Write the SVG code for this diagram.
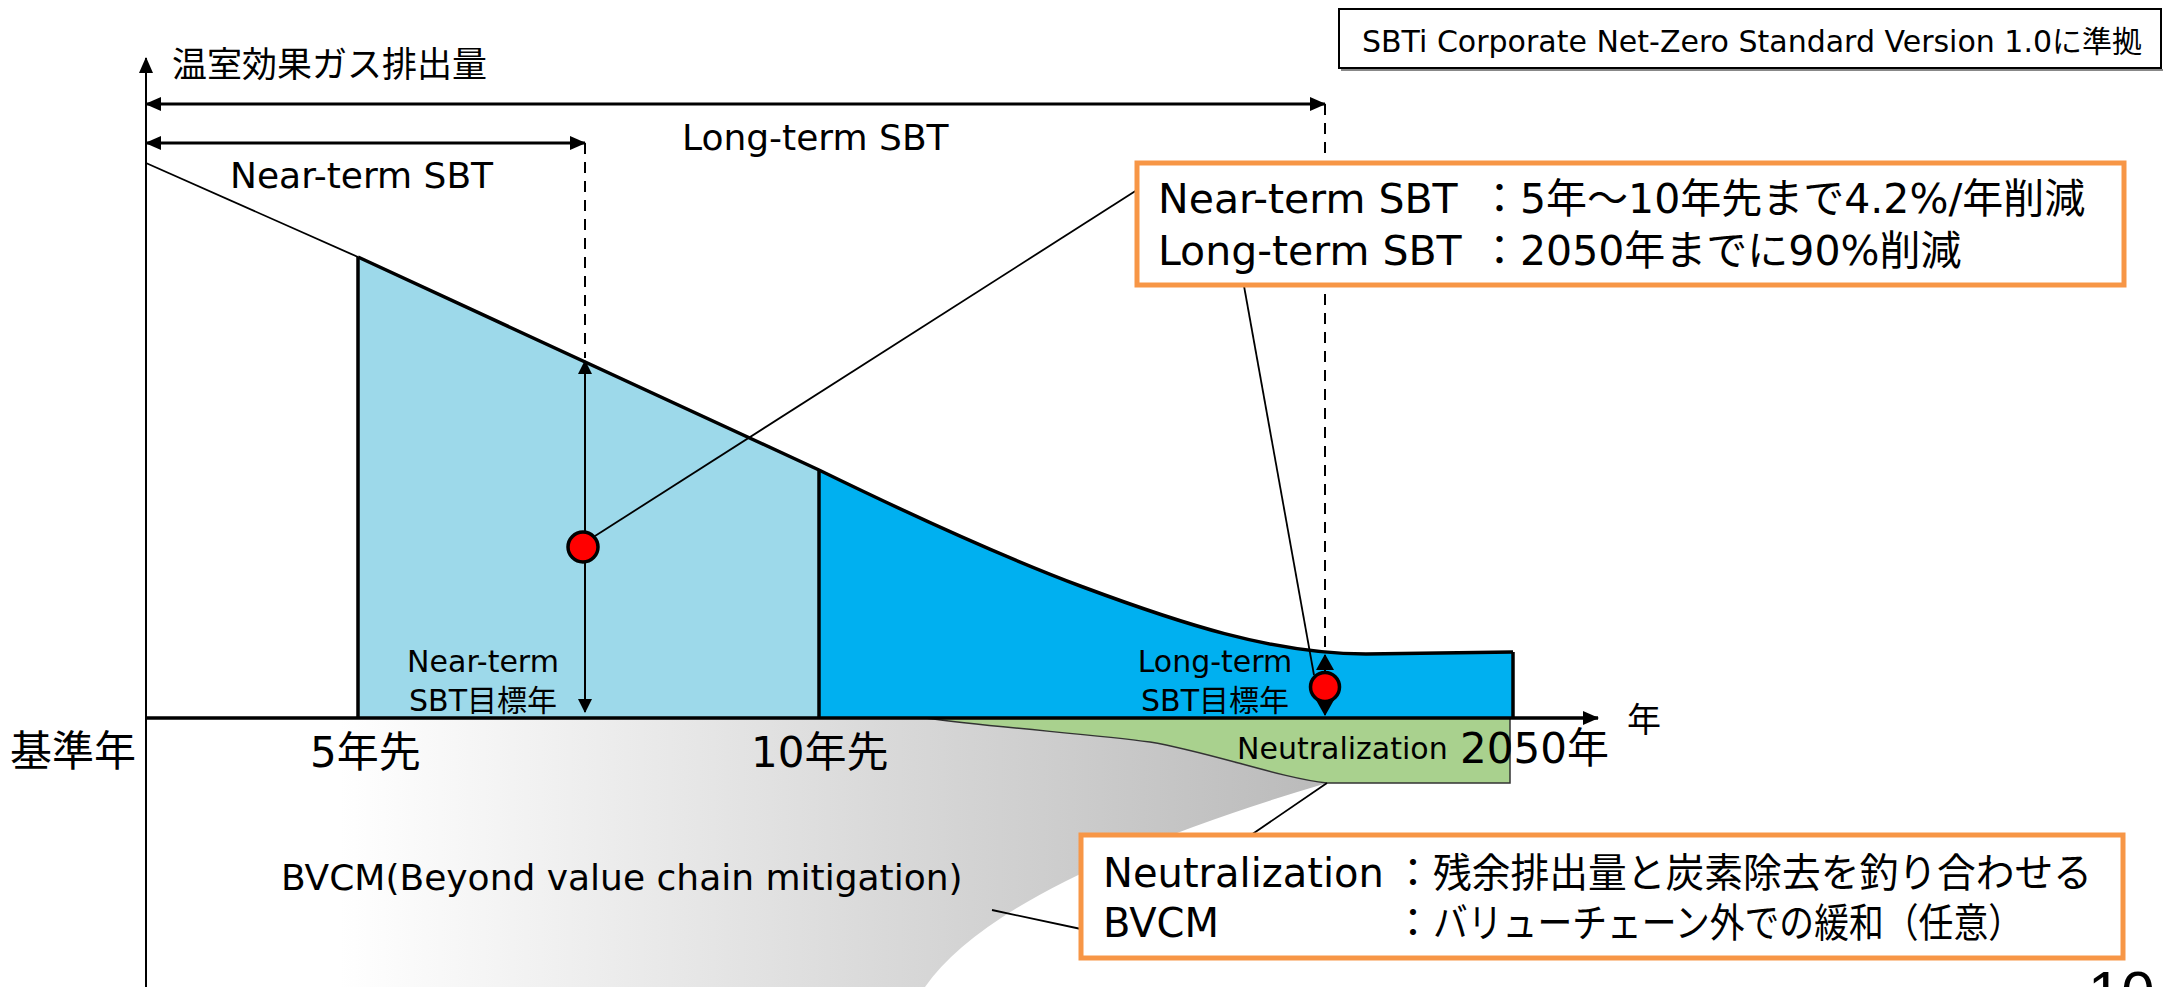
<svg xmlns="http://www.w3.org/2000/svg" width="2163" height="987" viewBox="0 0 2163 987">
<defs>
<style>
.txt{font-family:"DejaVu Sans","Noto Sans CJK JP",sans-serif;fill:#000}
.jp{font-family:"Noto Sans CJK JP",sans-serif;fill:#000}
.edge{fill:none;stroke:#000;stroke-width:3.5}
.thin{fill:none;stroke:#000;stroke-width:1.8}
.dash{fill:none;stroke:#000;stroke-width:2;stroke-dasharray:11 8}
.obox{fill:#fff;stroke:#F79646;stroke-width:5}
.dot{fill:#FF0000;stroke:#000;stroke-width:3.5}
.mid{text-anchor:middle}
</style>
<linearGradient id="gbv" gradientUnits="userSpaceOnUse" x1="340" y1="0" x2="1330" y2="0">
<stop offset="0" stop-color="#FFFFFF"/>
<stop offset="1" stop-color="#BABABA"/>
</linearGradient>
<marker id="ah" viewBox="0 0 16 14" refX="15" refY="7" markerWidth="16" markerHeight="14" orient="auto-start-reverse" markerUnits="userSpaceOnUse"><path d="M0,0L16,7L0,14Z" fill="#000"/></marker>
<marker id="ahs" viewBox="0 0 14 14" refX="13" refY="7" markerWidth="14" markerHeight="14" orient="auto-start-reverse" markerUnits="userSpaceOnUse"><path d="M0,0L14,7L0,14Z" fill="#000"/></marker>
<marker id="ahd" viewBox="0 0 16 18" refX="15" refY="9" markerWidth="16" markerHeight="18" orient="auto-start-reverse" markerUnits="userSpaceOnUse"><path d="M0,0L16,9L0,18Z" fill="#000"/></marker>
</defs>
<rect x="0" y="0" width="2163" height="987" fill="#fff"/>

<g id="bvcm-area">
<path d="M146,718 L925,718 C1000,728 1090,734 1150,742 C1210,752 1280,778 1327,783 Q1000,880 925,987 L146,987 Z" fill="url(#gbv)"/>
</g>

<g id="near-term-area">
<path d="M358,257 L819,470 L819,718 L358,718 Z" fill="#9DD9EA"/>
</g>

<g id="long-term-area">
<path d="M819,470 C907,513 995,554 1083,587 C1177,622 1272,654 1366,654 L1513,652 L1513,718 L819,718 Z" fill="#00B0F0"/>
</g>

<g id="neutralization-area">
<path d="M925,718 L1510,718 L1510,783 L1327,783 C1280,778 1210,752 1150,742 C1090,734 1000,728 925,718 Z" fill="#A9D18E" stroke="#333" stroke-width="1.5"/>
</g>

<g id="emission-path">
<path class="thin" d="M146,163 L358,257" stroke-width="2"/>
<path class="edge" d="M358,257 L819,470 C907,513 995,554 1083,587 C1177,622 1272,654 1366,654 L1513,652"/>
<path class="edge" d="M358,257 V718 M819,470 V718"/>
<path class="edge" d="M1513,652 V718" stroke-width="4.5"/>
</g>

<g id="axes">
<line x1="146" y1="987" x2="146" y2="58" stroke="#000" stroke-width="2" marker-end="url(#ah)"/>
<line x1="146" y1="718" x2="1598" y2="718" stroke="#000" stroke-width="3.5" marker-end="url(#ah)"/>
<text class="jp" x="172" y="77" font-size="35">温室効果ガス排出量</text>
<text class="jp" x="1627" y="732" font-size="34">年</text>
<text class="jp" x="10" y="766" font-size="42">基準年</text>
<text class="txt" x="310" y="767" font-size="42">5年先</text>
<text class="txt" x="751" y="767" font-size="42">10年先</text>
<text class="txt" x="1460" y="763" font-size="42">2050年</text>
</g>

<g id="connectors">
<line x1="146" y1="104" x2="1325" y2="104" stroke="#000" stroke-width="3" marker-start="url(#ah)" marker-end="url(#ah)"/>
<line x1="146" y1="143" x2="585" y2="143" stroke="#000" stroke-width="3" marker-start="url(#ah)" marker-end="url(#ah)"/>
<path class="dash" d="M585,143 V358"/>
<path class="dash" d="M1325,104 V652"/>
<line x1="585" y1="361" x2="585" y2="712" stroke="#000" stroke-width="2" marker-start="url(#ahs)" marker-end="url(#ahs)"/>
<line x1="1325" y1="655" x2="1325" y2="715" stroke="#000" stroke-width="2" marker-start="url(#ahd)" marker-end="url(#ahd)"/>
<path class="thin" d="M595,536 L1137,190"/>
<path class="thin" d="M1244,286 L1314,675"/>
<path class="thin" d="M1251,835 L1327,783"/>
<path class="thin" d="M992,910 L1081,929"/>
</g>

<g id="near-term-target">
<circle class="dot" cx="583" cy="547" r="15"/>
<text class="txt mid" x="483" y="672" font-size="30">Near-term</text>
<text class="txt mid" x="483" y="711" font-size="30">SBT目標年</text>
</g>

<g id="long-term-target">
<circle class="dot" cx="1325" cy="687" r="14.5"/>
<text class="txt mid" x="1215" y="672" font-size="30">Long-term</text>
<text class="txt mid" x="1215" y="711" font-size="30">SBT目標年</text>
</g>

<g id="span-labels">
<text class="txt" x="682" y="150" font-size="36">Long-term SBT</text>
<text class="txt" x="230" y="188" font-size="36">Near-term SBT</text>
<text class="txt" x="1237" y="759" font-size="30">Neutralization</text>
<text class="txt" x="281" y="890" font-size="36">BVCM(Beyond value chain mitigation)</text>
</g>

<g id="standard-box">
<line x1="1341" y1="70" x2="2163" y2="70" stroke="#888" stroke-width="2"/>
<rect x="1339" y="9" width="822" height="59" fill="#fff" stroke="#000" stroke-width="2"/>
<text class="txt" x="1362" y="52" font-size="30">SBTi Corporate Net-Zero Standard Version 1.0に準拠</text>
</g>

<g id="sbt-box">
<rect class="obox" x="1137" y="163" width="987" height="122"/>
<text class="txt" x="1158" y="213" font-size="41">Near-term SBT <tspan x="1479">：</tspan>5年～10年先まで4.2%/年削減</text>
<text class="txt" x="1158" y="265" font-size="41">Long-term SBT<tspan x="1479">：</tspan>2050年までに90%削減</text>
</g>

<g id="neutral-box">
<rect class="obox" x="1081" y="835" width="1042" height="123"/>
<text class="txt" x="1103" y="887" font-size="40">Neutralization <tspan x="1393">：</tspan><tspan textLength="659" lengthAdjust="spacingAndGlyphs">残余排出量と炭素除去を釣り合わせる</tspan></text>
<text class="txt" x="1103" y="937" font-size="40">BVCM<tspan x="1393">：</tspan><tspan textLength="590" lengthAdjust="spacingAndGlyphs">バリューチェーン外での緩和（任意）</tspan></text>
</g>

<g id="page-number">
<text x="2088" y="1013" font-family="Liberation Sans, sans-serif" font-size="60">10</text>
</g>
</svg>
